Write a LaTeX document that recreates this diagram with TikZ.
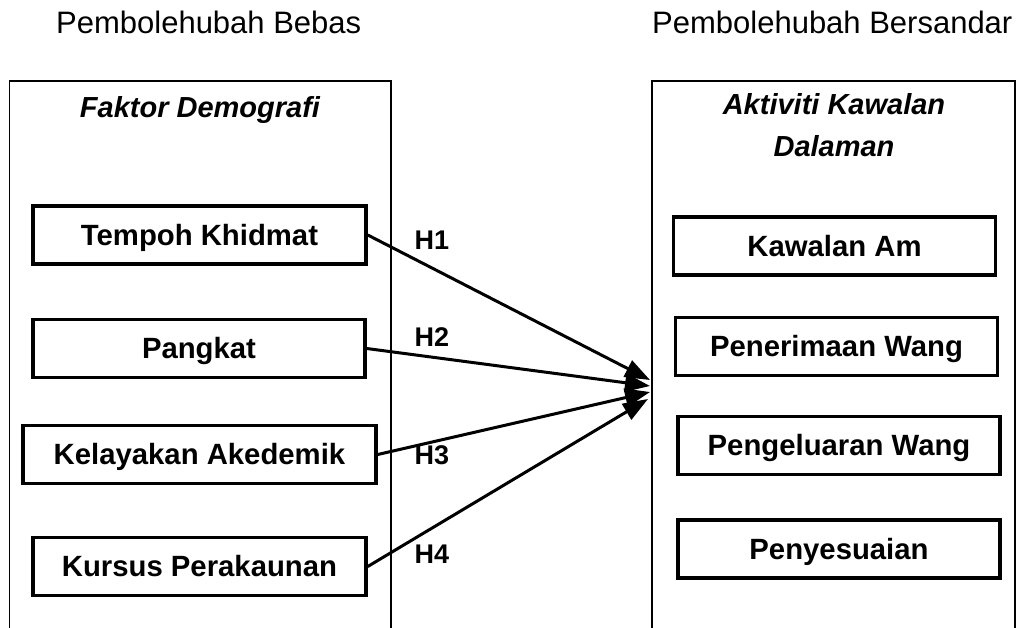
\documentclass[tikz,border=0pt]{standalone}
\usepackage{fontspec}
\setmainfont{Liberation Sans}
\usetikzlibrary{arrows.meta}
\begin{document}
\begin{tikzpicture}[x=1pt,y=-1pt,
  hdr/.style={inner sep=0pt,anchor=base west,font=\fontsize{31}{36}\selectfont},
  ttl/.style={inner sep=0pt,align=center,font=\fontsize{29}{42}\selectfont\bfseries\itshape},
  vbox/.style={draw,line width=3.5pt,minimum width=#1,minimum height=58pt,inner sep=0pt,
    text height=20.8pt,text depth=0pt,font=\fontsize{29.3}{34}\selectfont\bfseries},
  outer/.style={line width=1.5pt},
  hyp/.style={inner sep=0pt,text height=19.5pt,text depth=0pt,font=\fontsize{27}{32}\selectfont\bfseries},
  link/.style={line width=3pt,-{Triangle[length=25pt,width=18pt]}}]
\useasboundingbox (0,0) rectangle (1030,628);
% headers
\node[hdr] (hb) at (56,34) {Pembolehubah Bebas};
\node[hdr] (hs) at (652,34) {Pembolehubah Bersandar};
% outer frames (open at bottom)
\coordinate (lbl) at (9.5,640);
\coordinate (ltr) at (391,81);
\coordinate (rbl) at (652,640);
\coordinate (rtr) at (1015,81);
\draw[outer] (lbl) |- (ltr) -- (ltr |- lbl);
\draw[outer] (rbl) |- (rtr) -- (rtr |- rbl);
% titles
\node[ttl,anchor=base] (fd) at (200,118) {Faktor Demografi};
\node[ttl,anchor=base] (akd) at (834,157) {Aktiviti Kawalan\\Dalaman};
% left boxes
\node[vbox=333pt] (tk) at (199.5,235) {Tempoh Khidmat};
\node[vbox=332pt] (pk) at (199,348.5) {Pangkat};
\node[vbox=353pt] (ka) at (199.5,454.5) {Kelayakan Akedemik};
\node[vbox=333pt] (kp) at (199.5,566.5) {Kursus Perakaunan};
% right boxes
\node[vbox=322pt] (kam) at (834.5,246) {Kawalan Am};
\node[vbox=322pt] (pw) at (836.5,346.5) {Penerimaan Wang};
\node[vbox=322pt] (pew) at (839,445.5) {Pengeluaran Wang};
\node[vbox=322pt] (py) at (839,549) {Penyesuaian};
% arrow targets
\coordinate (t1) at (650,380);
\coordinate (t2) at (650,386);
\coordinate (t3) at (650,392);
\coordinate (t4) at (648,399);
\draw[link] (tk.east) -- (t1);
\draw[link] (pk.east) -- (t2);
\draw[link] (ka.east) -- (t3);
\draw[link] (kp.east) -- (t4);
% hypothesis labels
\node[hyp] (h1) at (432,240) {H1};
\node[hyp] (h2) at (432,337) {H2};
\node[hyp] (h3) at (432,455) {H3};
\node[hyp] (h4) at (432,554) {H4};
\end{tikzpicture}
\end{document}
